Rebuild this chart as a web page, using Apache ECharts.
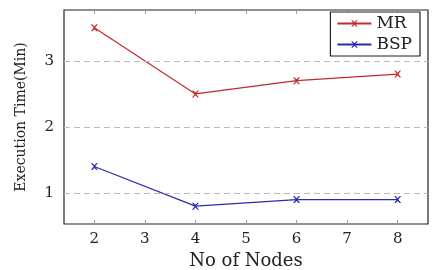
<!DOCTYPE html>
<html><head><meta charset="utf-8">
<script src="https://cdn.jsdelivr.net/npm/echarts@6/dist/echarts.min.js"></script>
<style>html,body{margin:0;padding:0;background:#fff}#c{width:438px;height:270px}</style>
</head><body><div id="c"></div>
<script>
const nodes = [2, 4, 6, 8];
const mrValues = [3.5, 2.5, 2.7, 2.8];
const bspValues = [1.4, 0.8, 0.9, 0.9];
const xTicks = [2, 3, 4, 5, 6, 7, 8];
const yTicks = [1, 2, 3];

const font = '"DejaVu Serif", "Liberation Serif", serif';
const xMark = 'path://M0,0L2,0L5,3L8,0L10,0L6,5L10,10L8,10L5,7L2,10L0,10L4,5Z';
const chart = echarts.init(document.getElementById('c'));
function ser(name, vals, color) {
  return {
    name, type: 'line', data: nodes.map((n, i) => [n, vals[i]]),
    symbol: xMark, symbolSize: 7, showSymbol: true,
    lineStyle: { color, width: 1.2 }, itemStyle: { color },
    animation: false
  };
}
const gridLines = {
  silent: true, symbol: 'none', label: { show: false },
  lineStyle: { color: '#bbb', type: [6, 4], width: 1 },
  data: yTicks.map(v => ({ yAxis: v }))
};
const s1 = ser('MR', mrValues, '#c42a2a');
s1.markLine = gridLines; s1.z = 3;
const s2 = ser('BSP', bspValues, '#2a2ab4');
chart.setOption({
  animation: false,
  grid: { left: 64, right: 10, top: 10, bottom: 46, outerBoundsMode: 'none', containLabel: false, show: true, borderColor: '#222', borderWidth: 1.2, backgroundColor: 'transparent' },
  xAxis: [{
    type: 'value', min: 1.4, max: 8.6,
    name: 'No of Nodes', nameLocation: 'middle', nameGap: 24,
    nameTextStyle: { fontFamily: font, fontSize: 18, color: '#222' },
    axisLine: { show: false },
    axisTick: { show: true, inside: true, length: 4, lineStyle: { color: '#999' }, customValues: xTicks },
    axisLabel: { fontFamily: font, fontSize: 15, color: '#222', customValues: xTicks, margin: 8 },
    splitLine: { show: false }
  }, {
    type: 'value', min: 1.4, max: 8.6, position: 'top',
    axisLine: { show: false },
    axisTick: { show: true, inside: true, length: 4, lineStyle: { color: '#999' }, customValues: xTicks },
    axisLabel: { show: false },
    splitLine: { show: false }
  }],
  yAxis: [{
    type: 'value', min: 0.53, max: 3.77,
    name: 'Execution Time(Min)', nameLocation: 'middle', nameGap: 36,
    nameTextStyle: { fontFamily: font, fontSize: 14, color: '#222' },
    axisLine: { show: false },
    axisTick: { show: true, inside: true, length: 4, lineStyle: { color: '#999' }, customValues: yTicks },
    axisLabel: { fontFamily: font, fontSize: 15, color: '#222', customValues: yTicks, margin: 10 },
    splitLine: { show: false }
  }],
  legend: {
    right: 18, top: 12, orient: 'vertical', itemWidth: 34, itemHeight: 8, itemGap: 4,
    backgroundColor: '#fff', borderColor: '#222', borderWidth: 1.2, borderRadius: 0,
    padding: [3, 8, 3, 6],
    textStyle: { fontFamily: font, fontSize: 17, color: '#222' },
    data: ['MR', 'BSP']
  },
  series: [s1, s2]
});
</script></body></html>
